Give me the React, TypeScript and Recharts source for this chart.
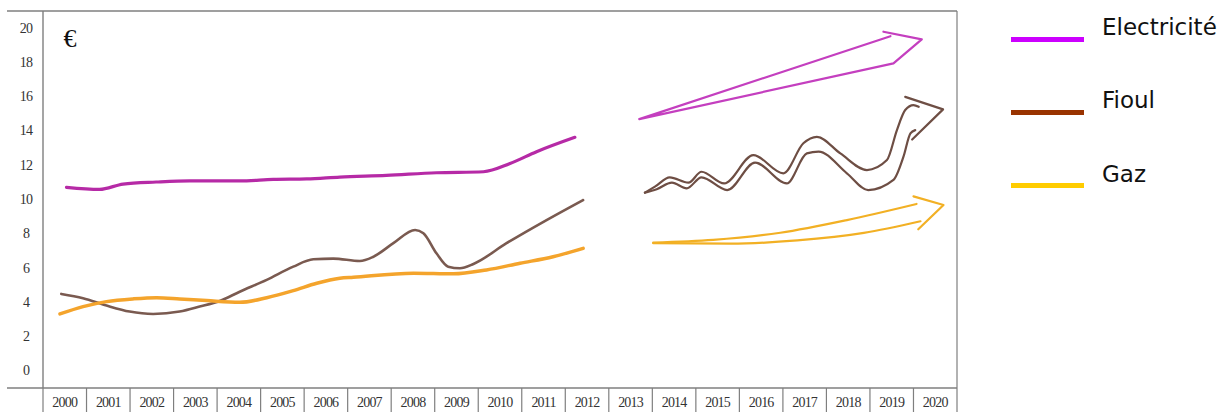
import React from 'react';
import { LineChart, Line, XAxis, YAxis, ReferenceLine, Legend } from 'recharts';

type Pt = [number, number];

// axis labels
const YEARS = [2000, 2001, 2002, 2003, 2004, 2005, 2006, 2007, 2008, 2009, 2010, 2011, 2012, 2013, 2014, 2015, 2016, 2017, 2018, 2019, 2020];
const Y_TICKS = [0, 2, 4, 6, 8, 10, 12, 14, 16, 18, 20];

// 2000 - 2012, [year, € value]
const ELEC_HIST: Pt[] = [
  [2000.04, 10.71], [2000.8, 10.59], [2001.34, 10.9], [2002.1, 11.02], [2002.87, 11.09], [2004.02, 11.09],
  [2004.79, 11.17], [2005.56, 11.2], [2006.32, 11.31], [2007.39, 11.41], [2008.54, 11.56], [2009.62, 11.62],
  [2010.23, 12.1], [2010.84, 12.79], [2011.72, 13.63],
];
const FIOUL_HIST: Pt[] = [
  [1999.92, 4.49], [2000.42, 4.24], [2000.96, 3.81], [2001.49, 3.46], [2002.03, 3.32], [2002.64, 3.46],
  [2003.1, 3.75], [2003.56, 4.08], [2004.02, 4.62], [2004.64, 5.31], [2005.25, 6.08], [2005.71, 6.51],
  [2006.17, 6.55], [2006.78, 6.41], [2007.09, 6.66], [2007.55, 7.45], [2008.05, 8.22], [2008.24, 8.03],
  [2008.54, 6.86], [2008.81, 6.08], [2009.08, 5.99], [2009.39, 6.24], [2010.15, 7.45], [2011.07, 8.8],
  [2011.91, 9.97],
];
const GAZ_HIST: Pt[] = [
  [1999.89, 3.32], [2000.42, 3.75], [2000.96, 4.04], [2001.57, 4.2], [2002.11, 4.27], [2002.64, 4.2],
  [2003.26, 4.1], [2004.02, 4.0], [2004.64, 4.27], [2005.25, 4.68], [2005.79, 5.11], [2006.32, 5.4],
  [2006.63, 5.46], [2008.01, 5.7], [2008.93, 5.66], [2009.69, 5.89], [2010.46, 6.28], [2011.22, 6.66],
  [2011.91, 7.15],
];

// 2013 - 2020 trend arrows
const ELEC_ARROW: Pt[] = [[2018.81, 19.79], [2019.69, 19.34], [2019.04, 17.94], [2013.2, 14.69], [2018.97, 19.53]];

const FIOUL_UPPER: Pt[] = [
  [2013.33, 10.4], [2013.56, 10.75], [2013.9, 11.29], [2014.33, 10.98], [2014.63, 11.62], [2015.15, 10.94],
  [2015.82, 12.59], [2016.51, 11.53], [2016.97, 13.28], [2017.28, 13.66], [2017.82, 12.69], [2018.43, 11.72],
  [2018.89, 12.3], [2019.12, 14.05], [2019.31, 15.22], [2019.5, 15.51], [2019.62, 15.41],
];
const FIOUL_LOWER: Pt[] = [
  [2013.33, 10.4], [2013.6, 10.6], [2013.95, 10.98], [2014.29, 10.65], [2014.63, 11.29], [2015.22, 10.55],
  [2015.86, 12.15], [2016.59, 10.94], [2017.05, 12.69], [2017.32, 12.79], [2017.97, 11.53], [2018.46, 10.55],
  [2019.04, 11.14], [2019.27, 12.5], [2019.43, 13.86], [2019.54, 14.05],
];
const FIOUL_HEAD: Pt[] = [[2019.31, 15.99], [2020.18, 15.26], [2019.47, 13.5]];

const GAZ_UPPER: Pt[] = [[2013.52, 7.48], [2014.9, 7.64], [2016.44, 8.06], [2017.97, 8.8], [2019.57, 9.74]];
const GAZ_LOWER: Pt[] = [[2013.52, 7.45], [2015.29, 7.42], [2016.83, 7.61], [2018.36, 8.05], [2019.66, 8.73]];
const GAZ_HEAD: Pt[] = [[2019.5, 10.18], [2020.19, 9.68], [2019.61, 8.26]];

const LEGEND_NAMES = ['Electricité', 'Fioul', 'Gaz'];
const LEGEND_COLORS = ['#cc00ff', '#993300', '#ffcc00'];

const W = 1223;
const H = 412;
const Y_AXIS_W = 43;
const X_AXIS_H = 24;
const MARGIN = { top: 11, right: 266, bottom: 0, left: 0 };
const CELL = (W - MARGIN.right - MARGIN.left - Y_AXIS_W) / YEARS.length;
const X_MIN = YEARS[0] - 0.5;
const X_MAX = YEARS[YEARS.length - 1] + 0.5;
const FRAME_X0 = X_MIN - 36 / CELL;
const FRAME = '#7f7f7f';
const SERIF = '"Liberation Serif", "Times New Roman", serif';

const toData = (pts: Pt[]) => pts.map(([x, y]) => ({ x, y }));

const SERIES = [
  { id: 'elec', pts: ELEC_HIST, color: '#b62aa6', w: 3.2, type: 'monotone' },
  { id: 'fioul', pts: FIOUL_HIST, color: '#7a5a50', w: 2.6, type: 'monotone' },
  { id: 'gaz', pts: GAZ_HIST, color: '#f4a42c', w: 3.5, type: 'monotone' },
  { id: 'elecArrow', pts: ELEC_ARROW, color: '#c43fbf', w: 2.2, type: 'linear' },
  { id: 'fioulUp', pts: FIOUL_UPPER, color: '#6e4e44', w: 2.2, type: 'monotone' },
  { id: 'fioulLow', pts: FIOUL_LOWER, color: '#6e4e44', w: 2.2, type: 'monotone' },
  { id: 'fioulHead', pts: FIOUL_HEAD, color: '#6e4e44', w: 2.2, type: 'linear' },
  { id: 'gazUp', pts: GAZ_UPPER, color: '#f2b024', w: 2.2, type: 'monotone' },
  { id: 'gazLow', pts: GAZ_LOWER, color: '#f2b024', w: 2.2, type: 'monotone' },
  { id: 'gazHead', pts: GAZ_HEAD, color: '#f2b024', w: 2.2, type: 'linear' },
];

const YearTick = (props: any) => {
  const { x, y, payload } = props;
  const last = payload.value === YEARS[YEARS.length - 1];
  return (
    <g>
      <line x1={x - CELL / 2} x2={x - CELL / 2} y1={y} y2={y + X_AXIS_H} stroke={FRAME} strokeWidth={1.2} />
      {last && <line x1={x + CELL / 2} x2={x + CELL / 2} y1={y} y2={y + X_AXIS_H} stroke={FRAME} strokeWidth={1.2} />}
      <text x={x} y={y + 14} textAnchor="middle" dominantBaseline="central" fontFamily={SERIF} fontSize={14}
        letterSpacing={-0.8} fill="#333">
        {payload.value}
      </text>
    </g>
  );
};

const ValueTick = (props: any) => {
  const { y, payload } = props;
  return (
    <text x={26} y={y} textAnchor="middle" dominantBaseline="central" fontFamily={SERIF} fontSize={14}
      letterSpacing={-0.8} fill="#333">
      {payload.value}
    </text>
  );
};

const LegendBox = () => (
  <svg width={212} height={200} style={{ display: 'block' }}>
    {LEGEND_NAMES.map((name, i) => (
      <g key={name}>
        <line x1={0} x2={73} y1={39.5 + i * 73} y2={39.5 + i * 73} stroke={LEGEND_COLORS[i]} strokeWidth={5} />
        <text x={91} y={34.5 + i * 73.6} fontFamily='"DejaVu Sans", Verdana, sans-serif' fontSize={23} fill="#111">
          {name}
        </text>
      </g>
    ))}
  </svg>
);

const App: React.FC = () => {
  return (
    <div style={{ width: W, height: H, overflow: 'hidden', background: '#fff' }}>
      <style>{'body{margin:0}'}</style>
      <LineChart width={W} height={H} margin={MARGIN}>
        <XAxis dataKey="x" type="number" domain={[X_MIN, X_MAX]} ticks={YEARS} interval={0} height={X_AXIS_H}
          axisLine={false} tickLine={false} tickSize={0} tickMargin={0} tick={<YearTick />} allowDataOverflow />
        <YAxis type="number" domain={[-1, 21]} ticks={Y_TICKS} interval={0} width={Y_AXIS_W}
          axisLine={{ stroke: FRAME, strokeWidth: 1.4 }} tickLine={false} tickSize={0} tickMargin={0}
          tick={<ValueTick />} allowDataOverflow
          label={{
            content: (p: any) => (
              <text x={p.viewBox.x + p.viewBox.width + 27} y={p.viewBox.y + 36} textAnchor="middle"
                fontFamily={SERIF} fontSize={26} fill="#111">€</text>
            ),
          }} />
        <ReferenceLine segment={[{ x: FRAME_X0, y: 21 }, { x: X_MAX, y: 21 }]} ifOverflow="visible"
          stroke={FRAME} strokeWidth={1.3} />
        <ReferenceLine segment={[{ x: FRAME_X0, y: -1 }, { x: X_MAX, y: -1 }]} ifOverflow="visible"
          stroke={FRAME} strokeWidth={1.3} />
        <ReferenceLine x={X_MAX} ifOverflow="visible" stroke={FRAME} strokeWidth={1.2} />
        {SERIES.map((s) => (
          <Line key={s.id} data={toData(s.pts)} dataKey="y" type={s.type as any} stroke={s.color}
            strokeWidth={s.w} strokeLinecap="round" strokeLinejoin="round" dot={false} activeDot={false}
            isAnimationActive={false} legendType="none" />
        ))}
        <Legend layout="horizontal" align="center" verticalAlign="middle" content={() => <LegendBox />}
          wrapperStyle={{ left: 1011, top: 0, width: 212, height: 200 }} />
      </LineChart>
    </div>
  );
};

export default App;
